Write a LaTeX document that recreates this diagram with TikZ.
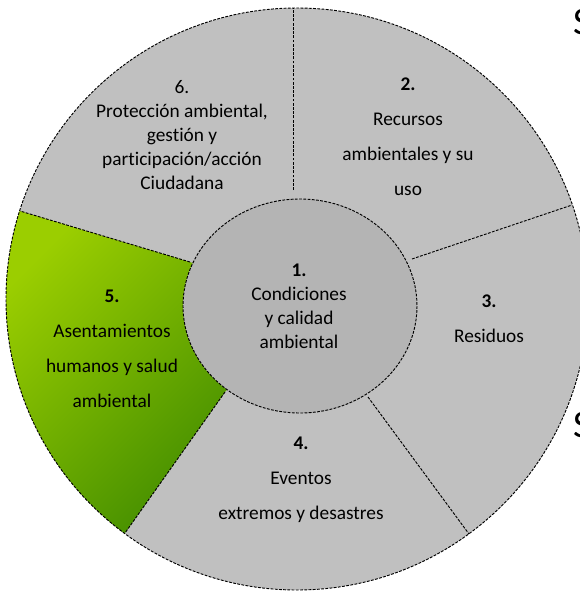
\documentclass[tikz,border=0pt]{standalone}
\usepackage{fontspec}
\setmainfont[Ligatures=NoCommon]{Carlito}
\usepackage{tikz}

\definecolor{ringgray}{RGB}{192,192,192}
\definecolor{coregray}{RGB}{180,180,180}
\definecolor{grnlight}{RGB}{155,206,0}
\definecolor{grndark}{RGB}{68,142,0}

\begin{document}
\begin{tikzpicture}[x=0.03cm, y=-0.03cm,
        dashline/.style={black, line width=0.8pt, dash pattern=on 2.4pt off 1.2pt},
        lbl/.style={align=center, inner sep=0pt, font=\fontsize{16.5}{20.4}\selectfont},
        lblwide/.style={align=center, inner sep=0pt, font=\fontsize{16.5}{29.8}\selectfont},
        cutletter/.style={anchor=base west, inner sep=0pt, font=\fontsize{33}{33}\selectfont}]

            \useasboundingbox (0,0) rectangle (579,592);

            %outer ring
            \fill[ringgray] (297,299) circle [radius=291];

            %divider ends
            \coordinate (in62) at (293,190);
            \coordinate (out62) at (293,8);
            \coordinate (in23) at (412,259);
            \coordinate (out23) at (572,205);
            \coordinate (in34) at (368,397);
            \coordinate (out34) at (469,534);
            \coordinate (in45) at (225,392);
            \coordinate (out45) at (125,533);
            \coordinate (in56) at (190,262);
            \coordinate (out56) at (20,211);

            %green segment
            \begin{scope}
                \clip (297,299) circle [radius=291];
                \clip (out56) -- (in56) -- (300,306) -- (in45) -- (out45) -- (39,650)
                    -- (-120,650) -- (-120,185) -- (-63,185) -- cycle;
                \shade[top color=grnlight, bottom color=grndark, shading angle=45]
                    (6,205) rectangle (230,540);
            \end{scope}

            %centre
            \draw[dashline, fill=coregray] (300,306) ellipse [x radius=117, y radius=107];

            %dividers
            \draw[dashline] (in62) -- (out62);
            \draw[dashline] (in23) -- (out23);
            \draw[dashline] (in34) -- (out34);
            \draw[dashline] (in45) -- (out45);
            \draw[dashline] (in56) -- (out56);

            \draw[dashline] (297,299) circle [radius=291];

            %labels
            \node[lbl] (sec1) at (299,306) {\textbf{1.}\\Condiciones\\y calidad\\ambiental};
            \node[lblwide] (sec2) at (408,137) {\textbf{2.}\\Recursos\\ambientales y su\\uso};
            \node[lblwide] (sec3) at (489,319) {\textbf{3.}\\Residuos};
            \node[lblwide] (sec4) at (301,480) {\textbf{4.}\\Eventos\\extremos y desastres};
            \node[lblwide] (sec5) at (112,349) {\textbf{5.}\\Asentamientos\\humanos y salud\\ambiental};
            \node[lbl] (sec6) at (182,135) {6.\\Protección ambiental,\\gestión y\\participación/acción\\Ciudadana};

            %letters cut at the right edge
            \node[cutletter] (cutS1) at (573,35) {S};
            \node[cutletter] (cutS2) at (573,437) {S};
        \end{tikzpicture}
\end{document}
